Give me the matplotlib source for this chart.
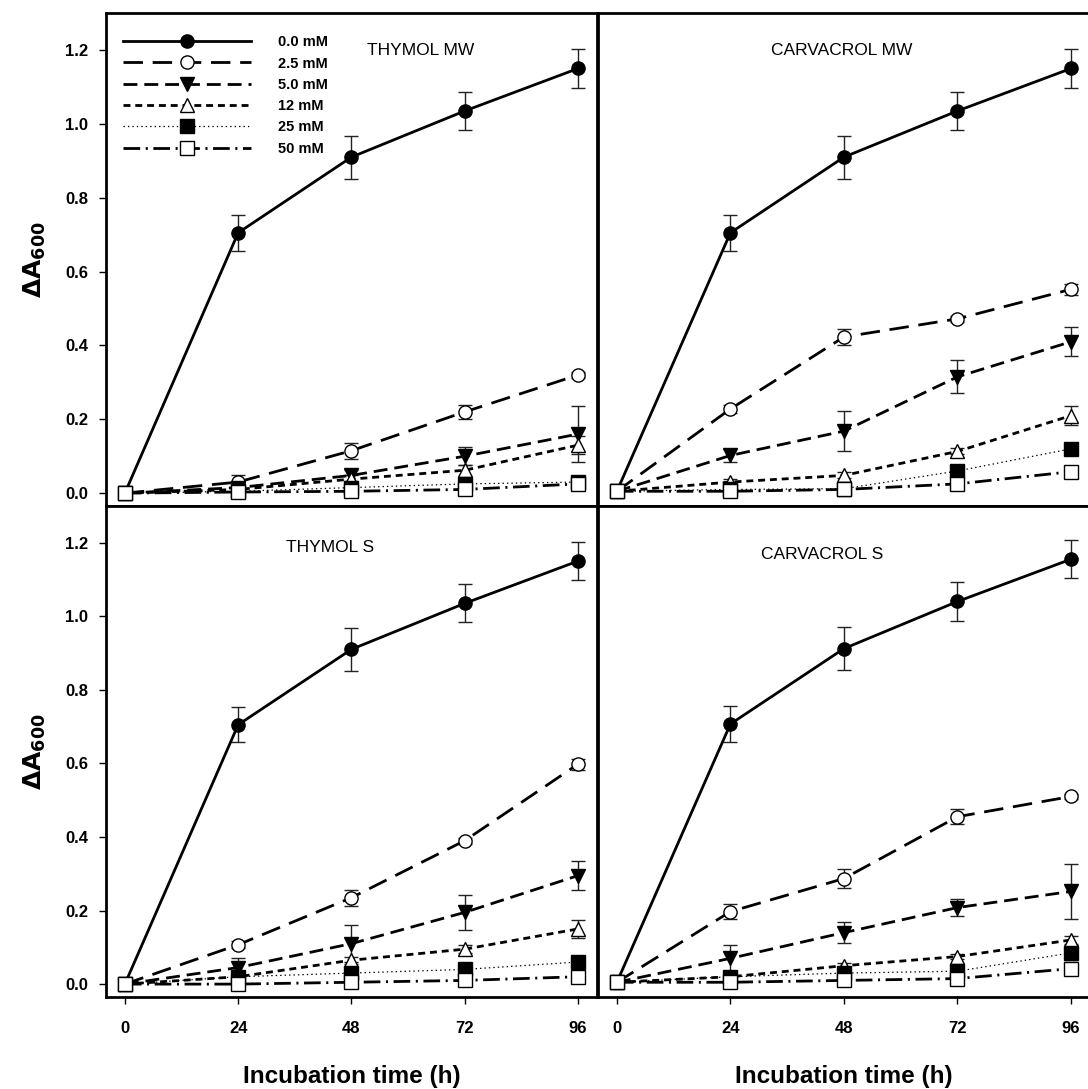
import numpy as np
import matplotlib.pyplot as plt
from matplotlib.lines import Line2D

plt.rcParams['font.family'] = ['Liberation Sans', 'DejaVu Sans']
plt.rcParams['lines.scale_dashes'] = False

# tiempo de incubación (h)
hours = [0, 24, 48, 72, 96]
concs = ['0.0 mM', '2.5 mM', '5.0 mM', '12 mM', '25 mM', '50 mM']
titles = ['THYMOL MW', 'CARVACROL MW', 'THYMOL S', 'CARVACROL S']

# ΔA600 por panel y concentración
thymol_mw = [
    [0.0, 0.705, 0.91, 1.035, 1.15],
    [0.0, 0.030, 0.115, 0.220, 0.320],
    [0.0, 0.015, 0.048, 0.100, 0.160],
    [0.0, 0.010, 0.038, 0.062, 0.130],
    [0.0, 0.005, 0.015, 0.025, 0.030],
    [0.0, 0.003, 0.005, 0.010, 0.025],
]
thymol_mw_err = [
    [0.0, 0.048, 0.058, 0.052, 0.052],
    [0.0, 0.020, 0.022, 0.020, 0.008],
    [0.0, 0.015, 0.015, 0.025, 0.075],
    [0.0, 0.008, 0.010, 0.015, 0.025],
    [0.0, 0.005, 0.008, 0.010, 0.015],
    [0.0, 0.005, 0.008, 0.008, 0.015],
]
carvacrol_mw = [
    [0.005, 0.705, 0.91, 1.035, 1.15],
    [0.005, 0.228, 0.423, 0.472, 0.552],
    [0.005, 0.102, 0.168, 0.315, 0.410],
    [0.005, 0.030, 0.048, 0.113, 0.210],
    [0.005, 0.010, 0.012, 0.060, 0.120],
    [0.005, 0.005, 0.010, 0.025, 0.058],
]
carvacrol_mw_err = [
    [0.0, 0.048, 0.058, 0.052, 0.052],
    [0.0, 0.010, 0.022, 0.008, 0.015],
    [0.0, 0.017, 0.055, 0.045, 0.040],
    [0.0, 0.008, 0.008, 0.008, 0.025],
    [0.0, 0.005, 0.005, 0.008, 0.008],
    [0.0, 0.005, 0.005, 0.008, 0.008],
]
thymol_s = [
    [0.0, 0.705, 0.91, 1.035, 1.15],
    [0.0, 0.107, 0.235, 0.390, 0.598],
    [0.0, 0.045, 0.110, 0.195, 0.295],
    [0.0, 0.020, 0.065, 0.095, 0.150],
    [0.0, 0.020, 0.030, 0.040, 0.060],
    [0.0, 0.000, 0.005, 0.010, 0.020],
]
thymol_s_err = [
    [0.0, 0.048, 0.058, 0.052, 0.052],
    [0.0, 0.010, 0.022, 0.008, 0.015],
    [0.0, 0.025, 0.050, 0.048, 0.040],
    [0.0, 0.008, 0.010, 0.010, 0.025],
    [0.0, 0.008, 0.008, 0.008, 0.008],
    [0.0, 0.008, 0.008, 0.008, 0.008],
]
carvacrol_s = [
    [0.005, 0.707, 0.912, 1.040, 1.155],
    [0.005, 0.197, 0.287, 0.455, 0.510],
    [0.005, 0.070, 0.140, 0.208, 0.252],
    [0.005, 0.020, 0.050, 0.075, 0.120],
    [0.005, 0.020, 0.030, 0.035, 0.085],
    [0.005, 0.005, 0.010, 0.015, 0.042],
]
carvacrol_s_err = [
    [0.0, 0.048, 0.058, 0.052, 0.052],
    [0.0, 0.020, 0.025, 0.020, 0.008],
    [0.0, 0.035, 0.028, 0.022, 0.075],
    [0.0, 0.008, 0.008, 0.008, 0.010],
    [0.0, 0.008, 0.008, 0.008, 0.020],
    [0.0, 0.008, 0.008, 0.008, 0.010],
]

panels = [(thymol_mw, thymol_mw_err), (carvacrol_mw, carvacrol_mw_err),
          (thymol_s, thymol_s_err), (carvacrol_s, carvacrol_s_err)]

# estilos de línea y marcadores para cada concentración
styles = [
    dict(ls='-', marker='o', mfc='black', lw=2.0),
    dict(ls=(0, (14, 7)), marker='o', mfc='white', lw=2.0),
    dict(ls=(0, (10, 5)), marker='v', mfc='black', lw=2.0),
    dict(ls=(0, (5, 3.5)), marker='^', mfc='white', lw=2.0),
    dict(ls=(0, (1, 2.2)), marker='s', mfc='black', lw=0.9),
    dict(ls=(0, (12, 4, 1.5, 4)), marker='s', mfc='white', lw=2.0),
]

fig = plt.figure(figsize=(10.88, 10.89), dpi=100)
pos = [
    [0.0974, 0.5353, 0.4513, 0.4527],
    [0.5496, 0.5353, 0.4522, 0.4527],
    [0.0974, 0.0845, 0.4513, 0.4510],
    [0.5496, 0.0845, 0.4522, 0.4510],
]
title_xy = [(0.64, 0.925), (0.496, 0.925), (0.456, 0.915), (0.455, 0.90)]

for i, (data, err) in enumerate(panels):
    ax = fig.add_axes(pos[i])
    for j in range(len(concs)):
        st = styles[j]
        ax.errorbar(hours, data[j], yerr=err[j], fmt='none', ecolor='#222222',
                    elinewidth=1.0, capsize=5, capthick=1.0, zorder=2)
        ax.plot(hours, data[j], color='black', linestyle=st['ls'], lw=st['lw'],
                marker=st['marker'], markersize=9.5, markerfacecolor=st['mfc'],
                markeredgecolor='black', markeredgewidth=1.0, zorder=3)
    ax.set_xlim(-4, 100)
    ax.set_ylim(-0.035, 1.30)
    ax.set_xticks(hours)
    ax.set_yticks([0.0, 0.2, 0.4, 0.6, 0.8, 1.0, 1.2])
    for sp in ax.spines.values():
        sp.set_linewidth(2.0)
    ax.tick_params(direction='out', length=5, width=1.0, labelsize=12)
    for lab in ax.get_xticklabels() + ax.get_yticklabels():
        lab.set_fontweight('bold')
    if i < 2:
        ax.tick_params(axis='x', bottom=False, labelbottom=False)
    else:
        ax.tick_params(axis='x', pad=12)
        ax.set_xlabel('Incubation time (h)', fontsize=17.5, fontweight='bold', labelpad=21)
    if i % 2 == 1:
        ax.tick_params(axis='y', left=False, labelleft=False)
    else:
        ax.tick_params(axis='y', pad=8)
        ax.yaxis.set_major_formatter(plt.FormatStrFormatter('%.1f'))
        ax.set_ylabel(r'$\mathbf{\Delta A_{600}}$', fontsize=18, labelpad=12)
    ax.text(title_xy[i][0], title_xy[i][1], titles[i], transform=ax.transAxes,
            ha='center', va='center', fontsize=12.5)

    if i == 0:
        handles = [Line2D([0], [0], color='black', linestyle=s['ls'], lw=s['lw'],
                          marker=s['marker'], markersize=9.5, markerfacecolor=s['mfc'],
                          markeredgecolor='black', markeredgewidth=1.0)
                   for s in styles]
        ax.legend(handles, concs, loc='upper left', bbox_to_anchor=(0.035, 0.955),
                  frameon=False, handlelength=8.8, handletextpad=1.8,
                  labelspacing=0.5, borderpad=0, borderaxespad=0,
                  prop={'weight': 'bold', 'size': 10.5})

fig.savefig('out.png', dpi=100)
